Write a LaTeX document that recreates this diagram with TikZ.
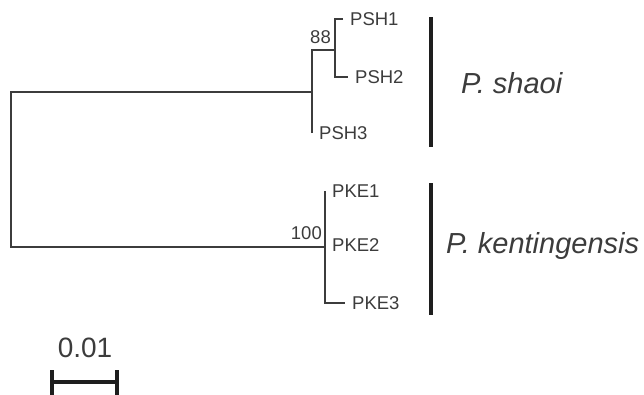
\documentclass[tikz,border=0pt]{standalone}
\usepackage{fontspec}
\setmainfont{Liberation Sans}
\usetikzlibrary{positioning}
\definecolor{treegray}{HTML}{3C3C3C}
\definecolor{bargray}{HTML}{1E1E1E}

\begin{document}
\begin{tikzpicture}[
      x=1pt, y=-1pt,
      branch/.style={line width=1.6pt, treegray},
      taxon/.style={anchor=west, inner sep=7pt, text=treegray, font=\fontsize{18.5}{20}\selectfont},
      support/.style={inner sep=1pt, text=treegray, font=\fontsize{18.5}{20}\selectfont},
      cladebar/.style={line width=4.5pt, bargray},
      species/.style={anchor=base west, inner sep=0pt, text=treegray, font=\fontsize{29}{32}\selectfont\itshape},
      scalebar/.style={line width=4.5pt, bargray}
  ]
      \useasboundingbox (0,0) rectangle (644,394);

      % internal nodes of the tree
      \coordinate (root) at (11,170);
      \coordinate (psh) at (312,92);
      \coordinate (psh12) at (335,50);
      \coordinate (pke) at (325,247);

      % tips
      \node[taxon] (psh1) at (343,19) {PSH1};
      \node[taxon] (psh2) at (348,77) {PSH2};
      \node[taxon] (psh3) at (312,133) {PSH3};
      \node[taxon] (pke1) at (325,191) {PKE1};
      \node[taxon] (pke2) at (325,245) {PKE2};
      \node[taxon] (pke3) at (345,303) {PKE3};

      \draw[branch] (psh) -| (root) |- (pke);
      \draw[branch] (psh3.west) |- (psh12);
      \draw[branch] (psh1.west) -| (psh12) |- (psh2.west);
      \draw[branch] (pke1.west) |- (pke3.west);

      % bootstrap values
      \node[support, anchor=south east, above left=5pt and 3pt of psh12] (bs88) {88};
      \node[support, anchor=south east, above left=6pt and 2pt of pke] (bs100) {100};

      % clades
      \coordinate (shaoiT) at (431,17);
      \coordinate (shaoiB) at (431,147);
      \coordinate (kentT) at (431,183);
      \coordinate (kentB) at (431,315);
      \draw[cladebar] (shaoiT) -- (shaoiB);
      \draw[cladebar] (kentT) -- (kentB);
      \node[species] (shaoi) at (461,93) {P. shaoi};
      \node[species] (kent) at (446,253) {P. kentingensis};

      % scale
      \coordinate (sbL) at (52,382);
      \coordinate (sbR) at (117,382);
      \node[anchor=base, inner sep=0pt, text=treegray, font=\fontsize{28}{32}\selectfont] (scale) at (85,357) {0.01};
      \draw[scalebar] (sbL) -- (sbR);
      \draw[scalebar] ([yshift=12pt]sbL) -- ([yshift=-14pt]sbL);
      \draw[scalebar] ([yshift=12pt]sbR) -- ([yshift=-14pt]sbR);
  \end{tikzpicture}
\end{document}
